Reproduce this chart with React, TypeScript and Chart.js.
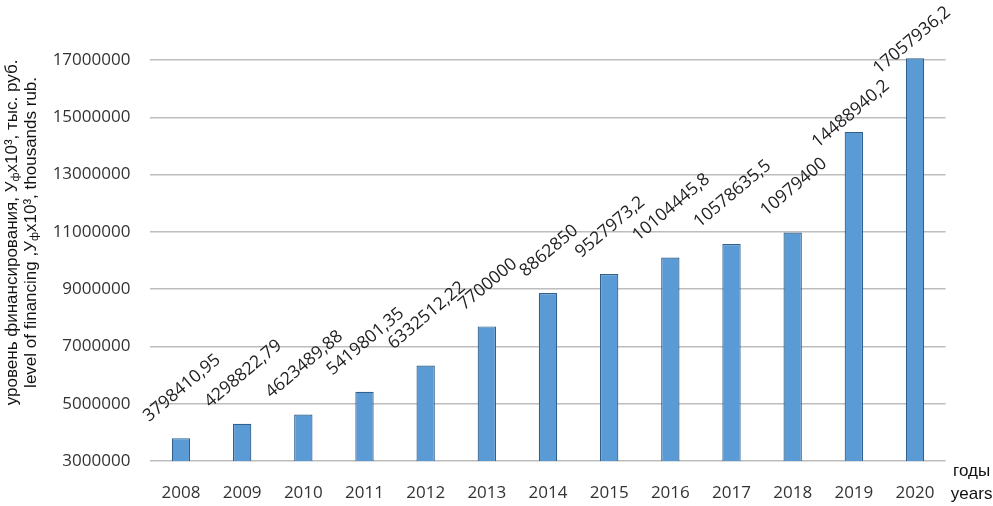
import React, { useEffect, useRef } from "react";
import { Chart, registerables } from "chart.js";

Chart.register(...registerables);

const years = ["2008", "2009", "2010", "2011", "2012", "2013", "2014", "2015", "2016", "2017", "2018", "2019", "2020"];
const financing = [
  3798410.95, 4298822.79, 4623489.88, 5419801.35, 6332512.22, 7700000, 8862850,
  9527973.2, 10104445.8, 10578635.5, 10979400, 14488940.2, 17057936.2,
];
const valueLabels = [
  "3798410,95", "4298822,79", "4623489,88", "5419801,35", "6332512,22", "7700000", "8862850",
  "9527973,2", "10104445,8", "10578635,5", "10979400", "14488940,2", "17057936,2",
];
const yMin = 3000000;
const yMax = 17000000;
const yStep = 2000000;

const titleLine1 = [
  { t: "уровень финансирования, У" },
  { t: "ф", sub: true },
  { t: "x10³, тыс. руб." },
];
const titleLine2 = [
  { t: "level of financing ,У" },
  { t: "ф", sub: true },
  { t: "x10³, thousands rub." },
];
const xTitle1 = "годы";
const xTitle2 = "years";

const NUM_FONT = "'Open Sans', 'Noto Sans', sans-serif";
const TXT_FONT = "'Liberation Sans', Arial, sans-serif";

function drawRich(ctx: CanvasRenderingContext2D, segs: { t: string; sub?: boolean }[], size: number) {
  const big = `${size}px ${TXT_FONT}`;
  const small = `${Math.round(size * 0.65)}px ${TXT_FONT}`;
  let total = 0;
  for (const s of segs) {
    ctx.font = s.sub ? small : big;
    total += ctx.measureText(s.t).width;
  }
  let x = -total / 2;
  ctx.textAlign = "left";
  ctx.textBaseline = "middle";
  for (const s of segs) {
    ctx.font = s.sub ? small : big;
    ctx.fillText(s.t, x, s.sub ? size * 0.25 : 0);
    x += ctx.measureText(s.t).width;
  }
}

const labelsPlugin = {
  id: "customLabels",
  afterDatasetsDraw(chart: any) {
    const ctx: CanvasRenderingContext2D = chart.ctx;
    const meta = chart.getDatasetMeta(0);
    const theta = (40 * Math.PI) / 180;
    const fs = 17.5;
    ctx.save();
    ctx.font = `${fs}px ${NUM_FONT}`;
    ctx.fillStyle = "#222";
    meta.data.forEach((bar: any, i: number) => {
      const text = valueLabels[i];
      const w = ctx.measureText(text).width;
      const bboxH = w * Math.sin(theta) + fs * Math.cos(theta);
      let cx = bar.x + 1;
      let cy = bar.y - 13 - bboxH / 2;
      if (financing[i] > 12000000) {
        cx = bar.x - 3;
        cy = bar.y - 18;
      }
      ctx.save();
      ctx.translate(cx, cy);
      ctx.rotate(-theta);
      ctx.textAlign = "center";
      ctx.textBaseline = "middle";
      ctx.fillText(text, 0, 0);
      ctx.restore();
    });
    ctx.restore();
  },
  afterDraw(chart: any) {
    const ctx: CanvasRenderingContext2D = chart.ctx;
    const area = chart.chartArea;
    const midY = area.top + (area.bottom - area.top) * 0.43;
    ctx.save();
    ctx.fillStyle = "#111";
    ctx.save();
    ctx.translate(12, midY);
    ctx.rotate(-Math.PI / 2);
    drawRich(ctx, titleLine1, 17);
    ctx.restore();
    ctx.save();
    ctx.translate(31, midY);
    ctx.rotate(-Math.PI / 2);
    drawRich(ctx, titleLine2, 17);
    ctx.restore();
    ctx.font = `17px ${TXT_FONT}`;
    ctx.textAlign = "center";
    ctx.textBaseline = "middle";
    ctx.fillText(xTitle1, area.right + 26, area.bottom + 10);
    ctx.fillText(xTitle2, area.right + 26, area.bottom + 33);
    ctx.restore();
  },
};

export default function App() {
  const ref = useRef<HTMLCanvasElement>(null);
  useEffect(() => {
    if (!ref.current) return;
    const chart = new Chart(ref.current, {
      type: "bar",
      data: {
        labels: years,
        datasets: [
          {
            data: financing,
            backgroundColor: "#5B9BD5",
            borderColor: "#2F5F8C",
            borderWidth: 1.2,
            barPercentage: 0.3,
            categoryPercentage: 1,
            clip: { left: 0, right: 0, bottom: 0, top: false },
          } as any,
        ],
      },
      options: {
        responsive: false,
        animation: false,
        events: [],
        layout: { padding: { left: 0, right: 47.4, top: 60, bottom: 0 } },
        plugins: { legend: { display: false }, title: { display: false }, tooltip: { enabled: false } },
        scales: {
          x: {
            grid: { display: false },
            border: { display: false },
            ticks: { padding: 14, color: "#333", font: { family: NUM_FONT, size: 17 } },
            afterFit: (s: any) => {
              s.height = 45;
            },
          },
          y: {
            min: yMin,
            max: yMax,
            grid: { color: "#BDBDBD", lineWidth: 1.5, drawTicks: false },
            border: { display: false },
            ticks: {
              stepSize: yStep,
              padding: 20,
              color: "#333",
              font: { family: NUM_FONT, size: 17 },
              callback: (v: any) => String(v),
            },
            afterFit: (s: any) => {
              s.width = 150.4;
            },
          },
        },
      },
      plugins: [labelsPlugin],
    });
    return () => chart.destroy();
  }, []);
  return (
    <canvas
      ref={ref}
      width={993}
      height={506}
      style={{ position: "absolute", left: 0, top: 0, width: 993, height: 506 }}
    />
  );
}
